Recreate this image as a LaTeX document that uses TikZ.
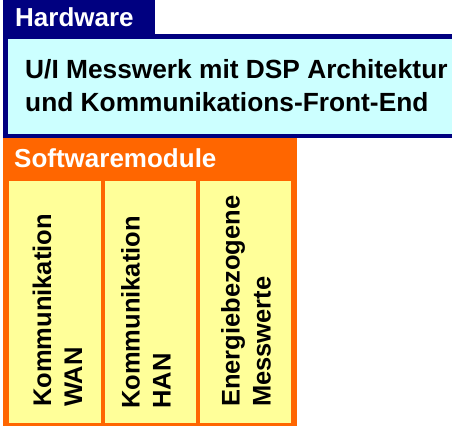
\documentclass[tikz,border=0pt]{standalone}
\usepackage{fontspec}
\setmainfont{Liberation Sans}
\definecolor{hwnavy}{HTML}{000080}
\definecolor{hwcyan}{HTML}{CCFFFF}
\definecolor{swor}{HTML}{FF6600}
\definecolor{swyel}{HTML}{FFFF99}
\begin{document}
\begin{tikzpicture}[x=1pt,y=-1pt,
  lbl/.style={inner sep=0pt, font=\bfseries\fontsize{26}{33}\selectfont},
  modtxt/.style={inner sep=0pt, rotate=90, anchor=north west, align=left,
     font=\bfseries\fontsize{25.5}{31}\selectfont}]
\useasboundingbox (0,0) rectangle (452,426);
% hardware
\fill[hwnavy] (3,0) rectangle (155,34);
\fill[hwnavy] (3,34) rectangle (452,138);
\fill[hwcyan] (8,39) rectangle (452,134);
\node[lbl, white, anchor=base west] (hw) at (15,26) {Hardware};
\node[lbl, anchor=north west, align=left, font=\bfseries\fontsize{26.3}{33}\selectfont] (hwtext) at (25,59.5)
  {U/I Messwerk mit DSP Architektur\\und Kommunikations-Front-End};
% software
\fill[swor] (3,138) rectangle (296.5,426);
\node[lbl, white, anchor=base west] (sw) at (14,167) {Softwaremodule};
\fill[swyel] (9,181) rectangle (100.5,423);
\fill[swyel] (105,181) rectangle (195.5,423);
\fill[swyel] (200,181) rectangle (291,423);
\node[modtxt] (m1) at (32.5,407) {Kommunikation\\WAN};
\node[modtxt] (m2) at (121,409) {Kommunikation\\HAN};
\node[modtxt] (m3) at (221,407) {Energiebezogene\\Messwerte};
\end{tikzpicture}
\end{document}
